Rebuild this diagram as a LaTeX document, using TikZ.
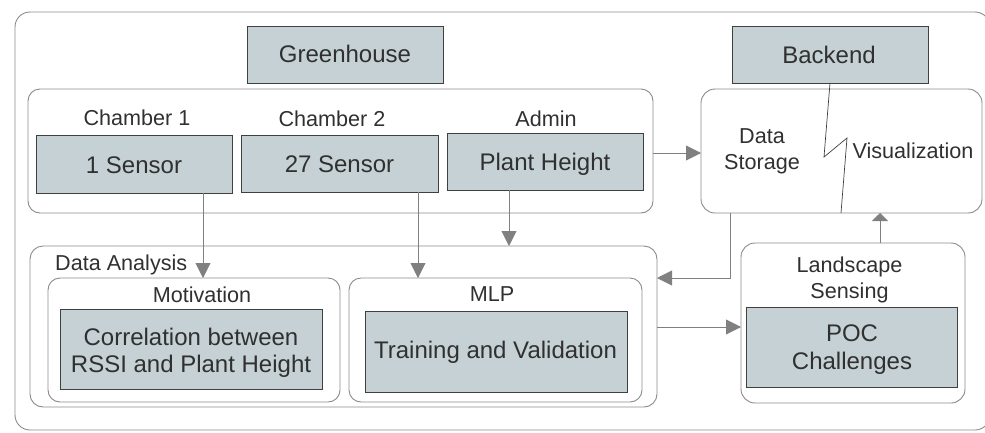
\documentclass[tikz,border=0pt]{standalone}
\usepackage{fontspec}
\setmainfont{Liberation Sans}
\usetikzlibrary{arrows.meta,calc}
\definecolor{boxfill}{HTML}{C5D1D4}
\definecolor{boxline}{HTML}{404040}
\definecolor{frameline}{HTML}{8A8A8A}
\definecolor{arrowcol}{HTML}{808080}
\definecolor{txt}{HTML}{303030}
\newcommand\twoline[2]{\begin{tabular}[b]{@{}c@{}}#1\\#2\end{tabular}}
\tikzset{
  frame/.style={draw=frameline,line width=0.9pt,rounded corners=#1,inner sep=0pt,outer sep=0pt},
  frame/.default=13pt,
  graybox/.style={draw=boxline,fill=boxfill,line width=1pt,inner sep=0pt,outer sep=0pt},
  bigtxt/.style={text=txt,inner sep=0pt,anchor=base,font=\fontsize{24}{27}\selectfont},
  smalltxt/.style={text=txt,inner sep=0pt,anchor=base,font=\fontsize{21.6}{26}\selectfont},
  arr/.style={draw=arrowcol,line width=0.9pt,-{Triangle[length=15pt,width=15pt]}},
  bolt/.style={draw=boxline,line width=0.7pt}
}
\begin{document}
\begin{tikzpicture}[x=1pt,y=-1pt]
\useasboundingbox (0,0) rectangle (985,432);
% outer frame
\node[frame=15pt,minimum width=975pt,minimum height=418pt] (outer) at (502.5,221) {};
% top boxes
\node[graybox,minimum width=196pt,minimum height=57pt] (gh) at (345,54.5) {};
\node[bigtxt] (ghT) at (345,62) {Greenhouse};
\node[graybox,minimum width=196pt,minimum height=57pt] (bk) at (830,54.5) {};
\node[bigtxt] (bkT) at (829,63) {Backend};
% greenhouse group
\node[frame=12pt,minimum width=625pt,minimum height=124pt] (group) at (340.5,151) {};
\node[smalltxt] (ch1) at (137,125) {Chamber 1};
\node[smalltxt] (ch2) at (332,126) {Chamber 2};
\node[smalltxt] (adm) at (546,126) {Admin};
\node[graybox,minimum width=196pt,minimum height=58pt] (s1) at (134,164) {};
\node[bigtxt] (s1T) at (134,173) {1 Sensor};
\node[graybox,minimum width=197pt,minimum height=57pt] (s27) at (339.5,163.5) {};
\node[bigtxt] (s27T) at (339.5,172) {27 Sensor};
\node[graybox,minimum width=196pt,minimum height=57pt] (ph) at (545,161.5) {};
\node[bigtxt] (phT) at (545,170) {Plant Height};
% data storage / visualization
\node[frame=14pt,minimum width=281pt,minimum height=124pt] (store) at (841.5,151) {};
\node[smalltxt,font=\fontsize{21.6}{26}\selectfont] (dsT) at (762,169) {\twoline{Data}{Storage}};
\node[smalltxt] (visT) at (913,158.5) {Visualization};
% data analysis
\node[frame=13pt,minimum width=627pt,minimum height=161pt] (da) at (343.5,326.5) {};
\node[smalltxt,anchor=base west] (daT) at (55,270) {Data Analysis};
\node[frame=12pt,minimum width=292pt,minimum height=124pt] (mot) at (194,340) {};
\node[smalltxt] (motT) at (202,302.5) {Motivation};
\node[graybox,minimum width=262pt,minimum height=80pt] (corr) at (191,349) {};
\node[bigtxt] (corrT) at (191,372) {\twoline{Correlation between}{RSSI and Plant Height}};
\node[frame=12pt,minimum width=293pt,minimum height=124pt] (mlp) at (495.5,340) {};
\node[smalltxt] (mlpT) at (492,301.7) {MLP};
\node[graybox,minimum width=262pt,minimum height=81pt] (train) at (496,351.5) {};
\node[bigtxt] (trainT) at (495.5,358) {Training and Validation};
% landscape sensing
\node[frame=14pt,minimum width=224pt,minimum height=160pt] (land) at (853,323) {};
\node[smalltxt] (landT) at (849.5,298) {\twoline{Landscape}{Sensing}};
\node[graybox,minimum width=211pt,minimum height=80pt] (poc) at (851.5,347) {};
\node[bigtxt,font=\fontsize{24}{28}\selectfont] (pocT) at (852,369) {\twoline{POC}{Challenges}};
% helper coordinates
\coordinate (c1) at (203,0);
\coordinate (c2) at (418,0);
\coordinate (c3) at (509,0);
\coordinate (c4) at (0,153);
\coordinate (c5) at (730,278);
\coordinate (c7) at (0,327);
\coordinate (c8) at (880,0);
\coordinate (z1) at (824,157);
\coordinate (z2) at (847,138);
\coordinate (z3) at (841,0);
% connectors
\draw[arr] (c1 |- s1.south) -- (c1 |- mot.north);
\draw[arr] (c2 |- s27.south) -- (c2 |- mlp.north);
\draw[arr] (c3 |- ph.south) -- (c3 |- da.north);
\draw[arr] (c4 -| group.east) -- (c4 -| store.west);
\draw[arr] (c5 |- store.south) -- (c5) -- (c5 -| da.east);
\draw[arr] (c7 -| da.east) -- (c7 -| land.west);
\draw[draw=arrowcol,line width=0.9pt,-{Triangle[length=8pt,width=16pt]}] (c8 |- land.north) -- (c8 |- store.south);
\draw[bolt] (bk.south) -- (z1) -- (z2) -- (z3 |- store.south);
\end{tikzpicture}
\end{document}
